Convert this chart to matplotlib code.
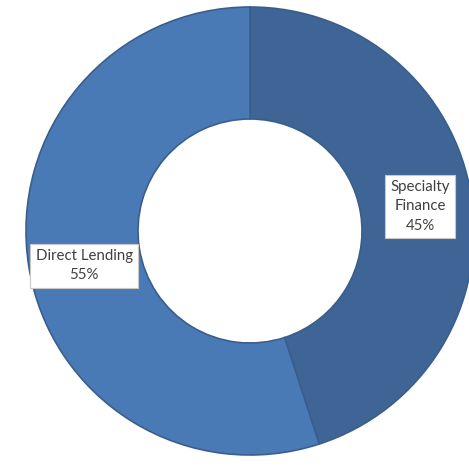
import matplotlib.pyplot as plt

labels = ['Specialty Finance', 'Direct Lending']
shares = [45, 55]
colors = ['#3e6596', '#4a7ab6']
label_pos = [(0.76, 0.11), (-0.74, -0.155)]
label_text = ['Specialty\nFinance\n45%', 'Direct Lending\n55%']

fig = plt.figure(figsize=(4.69, 4.66), dpi=100)
ax = fig.add_axes([26 / 469, 11 / 466, 448 / 469, 448 / 466])

ax.pie(shares, colors=colors, startangle=90, counterclock=False, radius=1.0,
       wedgeprops=dict(width=0.5, edgecolor='#3a5e8c', linewidth=1.2))

for (x, y), txt in zip(label_pos, label_text):
    ax.text(x, y, txt, ha='center', va='center', fontsize=10.8, family='Lato',
            color='#404040', linespacing=1.5,
            bbox=dict(boxstyle='square,pad=0.35', fc='white', ec='#c8c8c8', lw=0.8))

ax.set_xlim(-1, 1)
ax.set_ylim(-1, 1)
ax.axis('off')
fig.savefig('out.png', dpi=100)
